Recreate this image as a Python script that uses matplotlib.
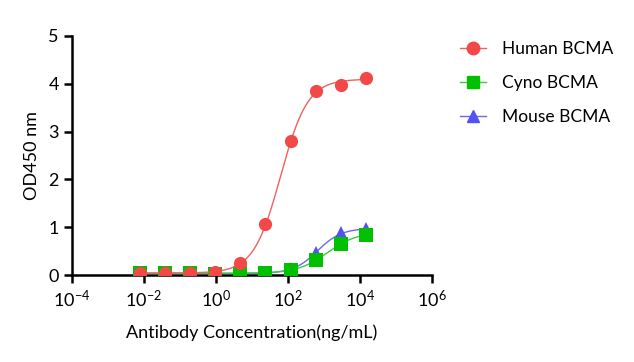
import numpy as np
import matplotlib
matplotlib.use("Agg")
import matplotlib.pyplot as plt
from matplotlib.ticker import NullLocator

# 5-fold dilution series, ng/mL
conc = [0.00768, 0.0384, 0.192, 0.96, 4.8, 24, 120, 600, 3000, 15000]
human = [0.04, 0.04, 0.04, 0.06, 0.25, 1.06, 2.80, 3.85, 3.97, 4.12]
cyno = [0.04, 0.04, 0.04, 0.03, 0.04, 0.05, 0.10, 0.31, 0.65, 0.84]
mouse = [0.03, 0.03, 0.03, 0.03, 0.03, 0.05, 0.13, 0.46, 0.87, 0.96]

labels = ["Human BCMA", "Cyno BCMA", "Mouse BCMA"]
xticks = [1e-4, 1e-2, 1e0, 1e2, 1e4, 1e6]
colors = ["#F24848", "#00C000", "#5252F5"]
line_colors = ["#F26060", "#3CCB3C", "#6A6AF5"]
markers = ["o", "s", "^"]


def fit_4pl(x, y):
    # grid over log EC50 / hill, bottom & top by linear least squares
    x = np.asarray(x, float)
    y = np.asarray(y, float)
    best = None
    for lec in np.linspace(-1, 5, 241):
        for h in np.linspace(0.4, 2.5, 85):
            s = 1.0 / (1.0 + (10 ** lec / x) ** h)
            A = np.column_stack([1 - s, s])
            coef, *_ = np.linalg.lstsq(A, y, rcond=None)
            err = np.sum((A @ coef - y) ** 2)
            if best is None or err < best[0]:
                best = (err, lec, h, coef)
    _, lec, h, (bot, top) = best
    return lambda xx: bot + (top - bot) / (1.0 + (10 ** lec / xx) ** h)


plt.rcParams["font.family"] = ["Lato", "DejaVu Sans"]
plt.rcParams["mathtext.default"] = "regular"

fig = plt.figure(figsize=(6.34, 3.62), dpi=100)
ax = fig.add_axes([0.1136, 0.2403, 0.5672, 0.6603])

xs = np.logspace(np.log10(conc[0]), np.log10(conc[-1]), 300)
series = [human, cyno, mouse]
zorders = [6, 5, 4]
for ys, lab, c, lc, m, z in zip(series, labels, colors, line_colors, markers, zorders):
    f = fit_4pl(conc, ys)
    ax.plot(xs, f(xs), color=lc, lw=1.0, zorder=z)
    ax.plot(conc, ys, linestyle="None", marker=m, color=c, ms=9.5,
            markeredgewidth=0, zorder=z + 0.5)
    ax.plot([], [], color=lc, lw=1.0, marker=m, mfc=c, mec=c, ms=9, label=lab)

ax.set_xscale("log")
ax.set_xlim(1e-4, 1e6)
ax.set_ylim(0, 5)
ax.set_xticks(xticks)
ax.xaxis.set_minor_locator(NullLocator())
ax.set_yticks(range(6))

for s in ["top", "right"]:
    ax.spines[s].set_visible(False)
for s in ["left", "bottom"]:
    ax.spines[s].set_linewidth(1.8)
    ax.spines[s].set_zorder(3)
ax.tick_params(axis="both", width=1.8, length=6, labelsize=13, colors="black")
ax.tick_params(axis="x", pad=4)

ax.set_xlabel("Antibody Concentration(ng/mL)", fontsize=13, labelpad=10)
ax.set_ylabel("OD450 nm", fontsize=13, labelpad=6)

fig.legend(loc="upper left", bbox_to_anchor=(0.7256, 0.887), frameon=False,
           fontsize=12.5, handlelength=1.5, labelspacing=1.05, handletextpad=0.9,
           borderpad=0, borderaxespad=0)

fig.savefig("out.png", dpi=100)
